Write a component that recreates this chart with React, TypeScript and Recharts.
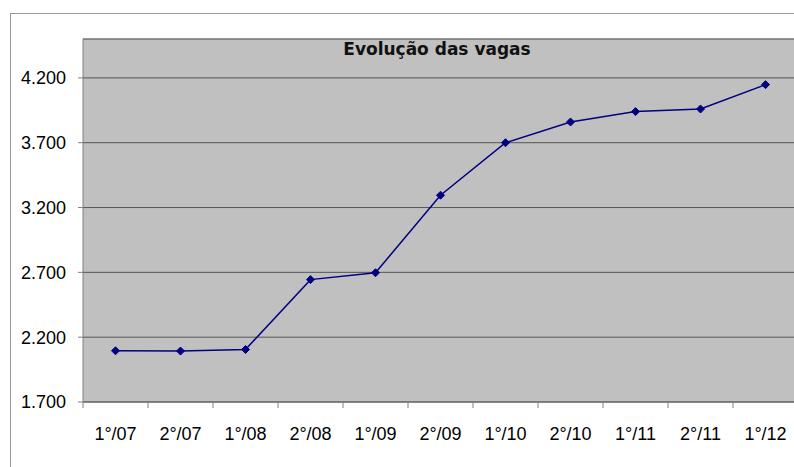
import { LineChart, Line, XAxis, YAxis, CartesianGrid, ReferenceLine } from 'recharts'

const periodos = ['1°/07', '2°/07', '1°/08', '2°/08', '1°/09', '2°/09', '1°/10', '2°/10', '1°/11', '2°/11', '1°/12']
const vagas = [2095, 2093, 2105, 2644, 2697, 3295, 3700, 3860, 3940, 3960, 4148]
const yTicks = [1700, 2200, 2700, 3200, 3700, 4200]
const yMax = 4500

const data = periodos.map((p, i) => ({ periodo: p, vagas: vagas[i] }))

const FONT = '"Liberation Sans", Arial, sans-serif'
const BAND = 65

function fmt(v: number) {
  return v.toLocaleString('de-DE')
}

function CategoryTick(props: any) {
  const { x, y, payload } = props
  return (
    <g>
      <line x1={x - BAND / 2} y1={y} x2={x - BAND / 2} y2={y + 6} stroke='#808080' />
      <text x={x} y={y + 38} textAnchor='middle' fill='#000' fontSize={18} fontFamily={FONT}>
        {payload.value}
      </text>
    </g>
  )
}

function Diamond(props: any) {
  const { cx, cy, index } = props
  if (cx == null || cy == null) return <g key={index} />
  const r = 4
  return (
    <path
      key={index}
      d={`M${cx},${cy - r} L${cx + r},${cy} L${cx},${cy + r} L${cx - r},${cy} Z`}
      fill='#000080'
      stroke='#000080'
    />
  )
}

export default function App() {
  return (
    <div style={{ position: 'absolute', left: 0, top: 0, width: 794, height: 467, overflow: 'hidden', background: '#fff' }}>
      <div
        style={{
          position: 'absolute',
          left: 10,
          top: 13,
          width: 820,
          height: 500,
          borderTop: '1px solid #999',
          borderLeft: '1px solid #999',
        }}
      />
      <div style={{ position: 'absolute', left: 0, top: 0 }}>
        <LineChart width={798} height={467} data={data} margin={{ top: 39, right: 0, left: 0, bottom: 0 }}>
          <CartesianGrid fill='#C0C0C0' vertical={false} stroke='#555' strokeOpacity={1} />
          <ReferenceLine y={yMax} stroke='#808080' ifOverflow='extendDomain' />
          <XAxis
            dataKey='periodo'
            height={65}
            interval={0}
            padding={{ left: BAND / 2, right: BAND / 2 }}
            tickSize={0}
            tickMargin={0}
            tickLine={false}
            axisLine={{ stroke: '#666' }}
            tick={<CategoryTick />}
          />
          <YAxis
            width={83}
            domain={[1700, yMax]}
            ticks={yTicks}
            allowDataOverflow
            tickFormatter={fmt}
            tickSize={5}
            tickMargin={12}
            axisLine={{ stroke: '#808080' }}
            tickLine={{ stroke: '#808080' }}
            tick={{ fill: '#000', fontSize: 18, fontFamily: FONT }}
          />
          <Line
            type='linear'
            dataKey='vagas'
            stroke='#000080'
            strokeWidth={1.5}
            dot={<Diamond />}
            activeDot={false}
            isAnimationActive={false}
          />
        </LineChart>
      </div>
      <div
        style={{
          position: 'absolute',
          left: 0,
          width: 874,
          top: 39,
          textAlign: 'center',
          fontFamily: '"DejaVu Sans", sans-serif',
          fontWeight: 'bold',
          fontSize: 17,
          color: '#111',
        }}
      >
        Evolução das vagas
      </div>
    </div>
  )
}
